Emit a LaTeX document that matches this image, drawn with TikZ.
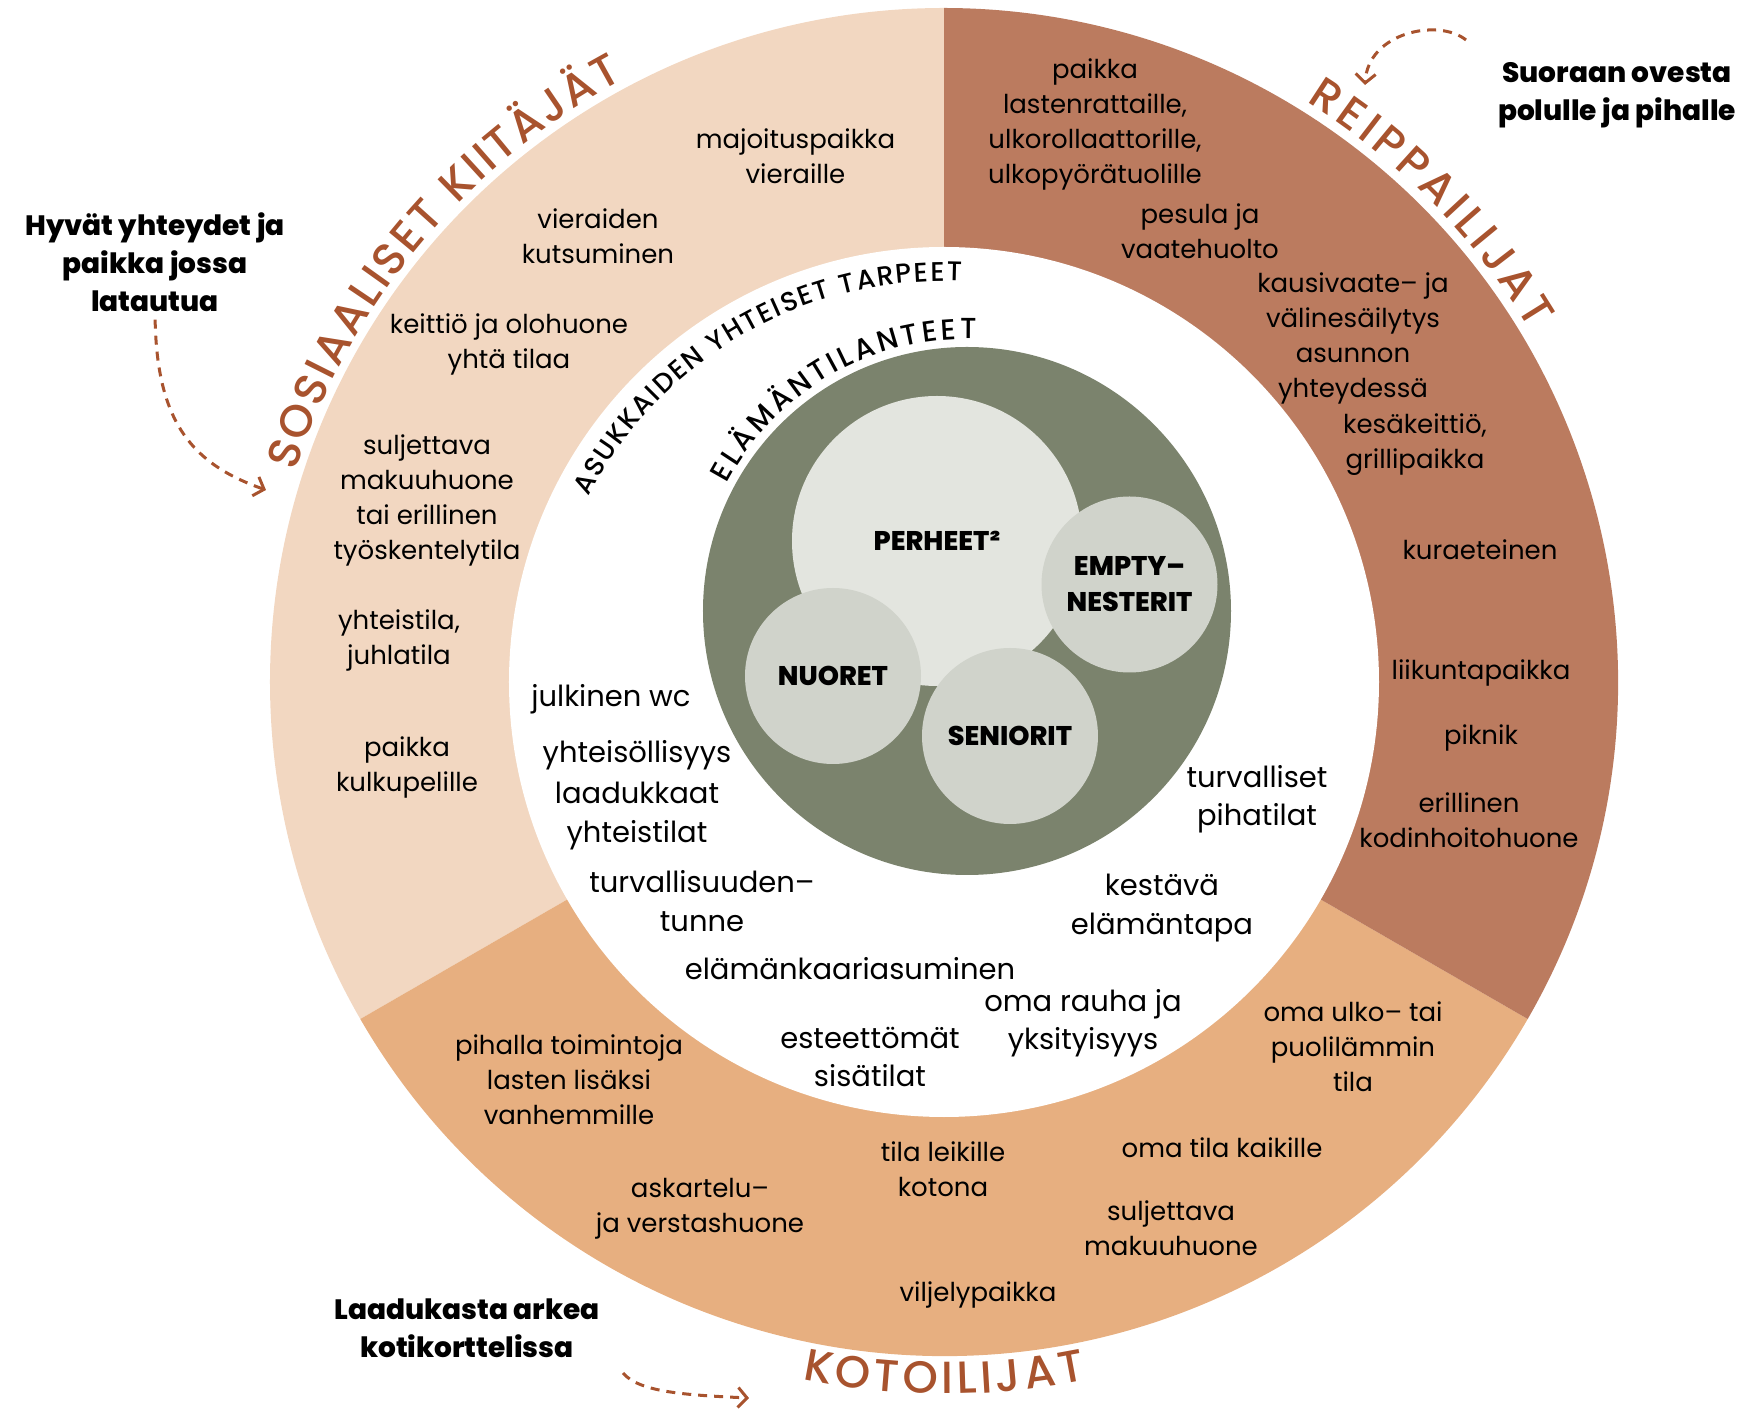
\documentclass[tikz,border=0pt]{standalone}
\usepackage{fontspec}
\setmainfont{Poppins}
\IfFontExistsTF{Poppins Medium}{\newfontfamily\titlefont{Poppins Medium}}{\newcommand\titlefont{\relax}}
\IfFontExistsTF{Poppins ExtraBold}{\newfontfamily\heavyfont{Poppins ExtraBold}}{\newcommand\heavyfont{\bfseries}}
\usetikzlibrary{arrows.meta}
\usetikzlibrary{decorations.text}

\definecolor{sosfill}{HTML}{F2D7C1}
\definecolor{reipfill}{HTML}{BB7B5F}
\definecolor{kotofill}{HTML}{E7AF80}
\definecolor{rust}{HTML}{A8532E}
\definecolor{lifegreen}{HTML}{7B836D}
\definecolor{bigcircle}{HTML}{E3E5DF}
\definecolor{smallcircle}{HTML}{D0D3CB}

\newcommand\ringfont{\titlefont\fontsize{45}{45}\selectfont}
\newcommand\innerringfont{\titlefont\fontsize{27}{27}\selectfont}
\newcommand\lifefont{\titlefont\fontsize{29}{29}\selectfont}

\begin{document}
\begin{tikzpicture}[x=1pt,y=1pt]
            % Define styles
            \tikzstyle{needtext} = [font=\fontsize{26}{35}\selectfont,align=center,inner sep=0]
            \tikzstyle{commontext} = [font=\fontsize{29}{38.5}\selectfont,align=center,inner sep=0]
            \tikzstyle{sidelabel} = [font=\heavyfont\fontsize{28}{38}\selectfont,align=center,inner sep=0]
            \tikzstyle{groupcircle} = [circle,fill=smallcircle,inner sep=0,minimum size=176pt,font=\heavyfont\fontsize{27}{36}\selectfont,align=center]
            \tikzstyle{dasharrow} = [draw=rust,line width=3pt,dash pattern=on 9pt off 7pt,-{Straight Barb[length=9pt,width=20pt]}]
            \tikzstyle{ringtitle} = [decorate,decoration={text along path,text align={fit to path},text color=rust}]
            \tikzstyle{innertitle} = [decorate,decoration={text along path,text align={fit to path},text color=black}]
            \useasboundingbox (-944,-730) rectangle (803,682);
            % Ring of the three groups
                \fill[sosfill] (0,0) -- (90:674pt) arc[start angle=90,end angle=210,radius=674pt] -- cycle;
                \fill[kotofill] (0,0) -- (210:674pt) arc[start angle=210,end angle=330,radius=674pt] -- cycle;
                \fill[reipfill] (0,0) -- (330:674pt) arc[start angle=-30,end angle=90,radius=674pt] -- cycle;
                \fill[white] (0,0) circle[radius=435pt];
            % Life situations
                \fill[lifegreen] (23,71) circle[radius=264pt];
                \node (perheet) at (-7,141) [groupcircle,fill=bigcircle,minimum size=290pt] {PERHEET²};
                \node (nuoret) at (-111,6) [groupcircle] {NUORET};
                \node (seniorit) at (66,-54) [groupcircle] {SENIORIT};
                \node (empty) at (185.5,97.5) [groupcircle] {EMPTY–\\NESTERIT};
            % Titles along the circles
                \path[ringtitle,decoration={text={|\ringfont|SOSIAALISET KIITÄJÄT}}] (162:682pt) arc[start angle=162,end angle=118,radius=682pt];
                \path[ringtitle,decoration={text={|\ringfont|REIPPAILIJAT}}] (58:684pt) arc[start angle=58,end angle=31,radius=684pt];
                \path[ringtitle,decoration={text={|\ringfont|KOTOILIJAT}}] (258.5:712pt) arc[start angle=258.5,end angle=281.5,radius=712pt];
                \path[innertitle,decoration={text={|\innerringfont|ASUKKAIDEN YHTEISET TARPEET}}] (152.5:401pt) arc[start angle=152.5,end angle=87.5,radius=401pt];
                \path[innertitle,shift={(23,71)},decoration={text={|\lifefont|ELÄMÄNTILANTEET}}] (152:272pt) arc[start angle=152,end angle=88,radius=272pt];
            % Needs of the social group
                \node (majoitus) at (-148.5,526) [needtext] {majoituspaikka\\vieraille};
                \node (vieraat) at (-346,446) [needtext] {vieraiden\\kutsuminen};
                \node (keittio) at (-435,338) [needtext] {keittiö ja olohuone\\yhtä tilaa};
                \node (tyotila) at (-517,182) [needtext] {suljettava\\makuuhuone\\tai erillinen\\työskentelytila};
                \node (juhlatila) at (-545,42) [needtext] {yhteistila,\\juhlatila};
                \node (kulkupelit) at (-537,-85) [needtext] {paikka\\kulkupelille};
            % Needs of the active group
                \node (rattaat) at (151,558) [needtext] {paikka\\lastenrattaille,\\ulkorollaattorille,\\ulkopyörätuolille};
                \node (pesula) at (256,451) [needtext] {pesula ja\\vaatehuolto};
                \node (sailytys) at (409,344) [needtext] {kausivaate– ja\\välinesäilytys\\asunnon\\yhteydessä};
                \node (kesakeittio) at (471,237) [needtext] {kesäkeittiö,\\grillipaikka};
                \node (kuraeteinen) at (536,132) [needtext] {kuraeteinen};
                \node (liikunta) at (537,9) [needtext] {liikuntapaikka};
                \node (piknik) at (537,-56) [needtext] {piknik};
                \node (kodinhoito) at (525,-138) [needtext] {erillinen\\kodinhoitohuone};
            % Needs of the homely group
                \node (pihatoiminnot) at (-375,-398) [needtext] {pihalla toimintoja\\lasten lisäksi\\vanhemmille};
                \node (askartelu) at (-244,-527) [needtext] {askartelu–\\ja verstashuone};
                \node (leikki) at (-1,-487) [needtext] {tila leikille\\kotona};
                \node (viljely) at (34,-613) [needtext] {viljelypaikka};
                \node (omatila) at (278,-466) [needtext] {oma tila kaikille};
                \node (makuuhuone) at (227,-546) [needtext] {suljettava\\makuuhuone};
                \node (ulkotila) at (409,-365) [needtext] {oma ulko– tai\\puolilämmin\\tila};
            % Common needs
                \node (wc) at (-333,-17) [commontext] {julkinen wc};
                \node (yhteisollisyys) at (-307,-73) [commontext] {yhteisöllisyys};
                \node (yhteistilat) at (-307,-134) [commontext] {laadukkaat\\yhteistilat};
                \node (turvallisuus) at (-242,-219) [commontext] {turvallisuuden–\\tunne};
                \node (elamankaari) at (-94,-287) [commontext] {elämänkaariasuminen};
                \node (esteettomat) at (-74,-375) [commontext] {esteettömät\\sisätilat};
                \node (rauha) at (139,-341) [commontext] {oma rauha ja\\yksityisyys};
                \node (kestava) at (218,-226) [commontext] {kestävä\\elämäntapa};
                \node (pihatilat) at (313,-117) [commontext] {turvalliset\\pihatilat};
            % Side labels and arrows
                \node (hyvat) at (-789,420) [sidelabel] {Hyvät yhteydet ja\\paikka jossa\\latautua};
                \node (suoraan) at (673,587) [sidelabel] {Suoraan ovesta\\polulle ja pihalle};
                \node (laadukasta) at (-477,-646) [sidelabel] {Laadukasta arkea\\kotikorttelissa};
                \coordinate (sosend) at (-678,192);
                \coordinate (reipstart) at (522,642);
                \coordinate (reipend) at (421,597);
                \coordinate (kotostart) at (-321,-691);
                \coordinate (kotoend) at (-195,-716);
                \draw[dasharrow,shorten <=8pt] (hyvat.south) .. controls (-787,260) and (-752,218) .. (sosend);
                \draw[dasharrow] (reipstart) .. controls (495,664) and (424,650) .. (reipend);
                \draw[dasharrow] (kotostart) .. controls (-305,-710) and (-260,-713) .. (kotoend);
\end{tikzpicture}
\end{document}
